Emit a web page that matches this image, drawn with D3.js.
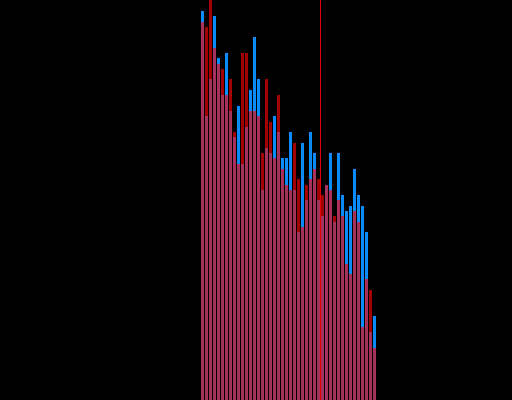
<!DOCTYPE html>
<html>
<head>
<meta charset="utf-8">
<script src="https://cdn.jsdelivr.net/npm/d3@7"></script>
<style>
html, body { margin: 0; padding: 0; background: #000; overflow: hidden; }
svg { display: block; }
</style>
</head>
<body>
<script>
const binStart = 50;
const blueValues = [97.25, 71, 80.25, 96, 85.5, 76.25, 86.75, 72.25, 65.75, 73.5, 59, 68.25, 77.5, 90.75, 80.25, 52.5, 63, 61.75, 71, 67, 60.5, 60.5, 67, 52.5, 42, 64.25, 50, 67, 61.75, 50, 46, 53.75, 61.75, 44.5, 61.75, 51.25, 47.25, 48.5, 57.75, 51.25, 48.5, 42, 17, 21];
const redValues = [94.5, 93.25, 100, 88, 84, 82.75, 76.25, 80.25, 67, 59, 86.75, 86.75, 72.25, 72.25, 71, 61.75, 80.25, 69.5, 60.5, 76.25, 57.75, 53.75, 52.5, 64.25, 55.25, 43.25, 53.75, 55.25, 57.75, 55.25, 51.25, 53.75, 52.5, 46, 50, 46, 34, 31.5, 47.25, 44.5, 18.25, 30.25, 27.5, 13];
const markerValue = 80;

const W = 512, H = 400;
const x = d3.scaleLinear().domain([0, 128]).range([0, W]);
const y = d3.scaleLinear().domain([0, 100]).range([H, 0]);

const svg = d3.select("body").append("svg").attr("width", W).attr("height", H);
svg.append("rect").attr("width", W).attr("height", H).attr("fill", "#000");

function bins(vals) {
  return vals.map((v, i) => ({x0: binStart + i, x1: binStart + i + 1, v}));
}

function drawBars(data, color, opacity) {
  svg.append("g").selectAll("rect").data(data).join("rect")
    .attr("x", d => x(d.x0) + 1)
    .attr("width", d => x(d.x1) - x(d.x0) - 1)
    .attr("y", d => y(d.v))
    .attr("height", d => y(0) - y(d.v))
    .attr("fill", color)
    .attr("fill-opacity", opacity);
}

drawBars(bins(blueValues), "#0a8cff", 1);
drawBars(bins(redValues), "#ff0000", 0.64);

svg.append("line")
  .attr("x1", x(markerValue) + 0.5).attr("x2", x(markerValue) + 0.5)
  .attr("y1", 0).attr("y2", H)
  .attr("stroke", "#e00000").attr("stroke-width", 1);
</script>
</body>
</html>
